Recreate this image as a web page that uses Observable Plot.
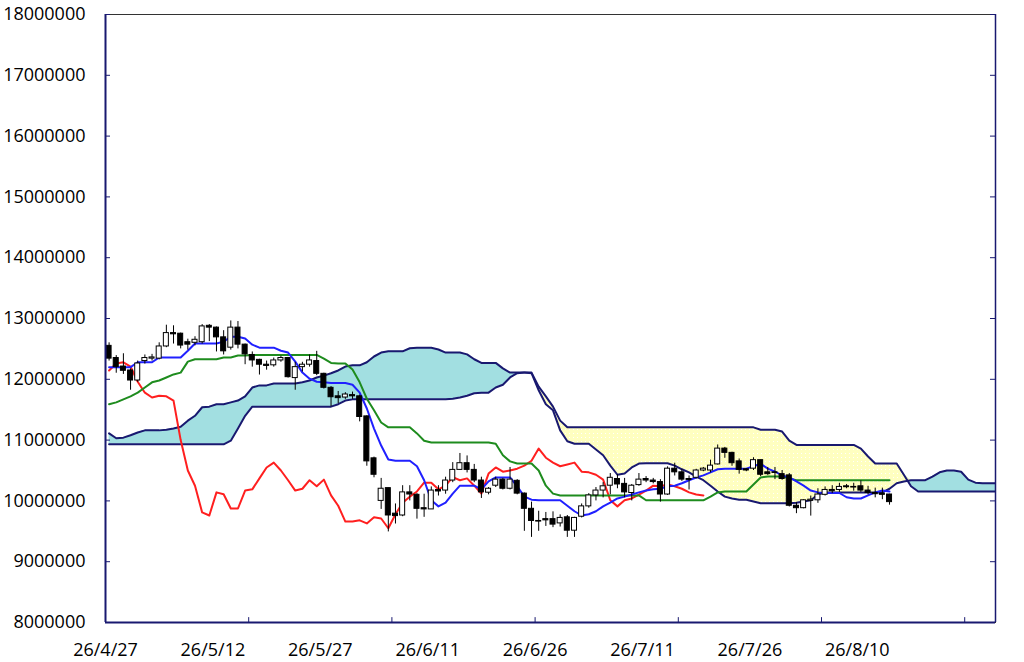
<!DOCTYPE html>
<html>
<head>
<meta charset="utf-8">
<script src="https://cdn.jsdelivr.net/npm/d3@7"></script>
<script src="https://cdn.jsdelivr.net/npm/@observablehq/plot@0.6"></script>
<style>
  html, body { margin: 0; padding: 0; background: #fff; }
  #chart svg { display: block; }
</style>
</head>
<body>
<div id="chart"></div>
<script>
// ---- Data (values in millions) ----
const startDate = "2026-04-27";

const open = [12.55,12.35,12.21,12.145,11.98,12.30,12.34,12.34,12.54,12.76,
 12.75,12.61,12.60,12.61,12.88,12.85,12.69,12.52,12.85,12.57,
 12.40,12.32,12.24,12.23,12.31,12.35,12.02,12.20,12.24,12.30,
 12.09,11.86,11.72,11.70,11.74,11.72,11.39,10.70,10.00,10.21,
 9.79,9.76,10.14,10.10,9.88,9.86,10.18,10.17,10.335,10.51,
 10.62,10.51,10.335,10.135,10.25,10.35,10.20,10.33,10.12,9.87,
 9.67,9.70,9.70,9.63,9.73,9.51,9.74,9.91,10.09,10.17,
 10.25,10.36,10.28,10.13,10.26,10.36,10.335,10.31,10.105,10.53,
 10.47,10.36,10.38,10.50,10.50,10.60,10.86,10.79,10.65,10.52,
 10.53,10.67,10.47,10.47,10.44,10.42,9.92,9.88,10.00,10.01,
 10.10,10.18,10.18,10.24,10.23,10.24,10.17,10.13,10.12,10.105];

const high = [12.60,12.39,12.42,12.17,12.30,12.40,12.41,12.60,12.89,12.88,
 12.76,12.66,12.70,12.90,12.90,12.86,12.80,12.96,12.95,12.58,
 12.45,12.33,12.30,12.35,12.38,12.36,12.28,12.28,12.40,12.46,
 12.10,11.88,11.80,11.78,11.79,11.74,11.40,10.72,10.37,10.21,
 9.95,10.25,10.25,10.12,10.11,10.23,10.25,10.39,10.63,10.78,
 10.74,10.60,10.39,10.22,10.39,10.37,10.55,10.35,10.13,9.98,
 9.83,9.81,9.82,9.77,9.76,9.73,9.95,10.12,10.22,10.30,
 10.45,10.43,10.37,10.27,10.45,10.40,10.37,10.35,10.56,10.62,
 10.52,10.41,10.52,10.55,10.67,10.92,10.88,10.80,10.69,10.53,
 10.71,10.67,10.55,10.55,10.50,10.45,9.97,10.02,10.08,10.20,
 10.23,10.25,10.29,10.27,10.29,10.33,10.24,10.21,10.21,10.11];

const low = [12.30,12.10,12.08,11.82,11.95,12.25,12.30,12.32,12.52,12.58,
 12.50,12.48,12.55,12.58,12.62,12.45,12.40,12.48,12.50,12.24,
 12.20,12.07,12.15,12.20,12.28,12.02,11.82,12.12,12.20,12.06,
 11.84,11.55,11.60,11.67,11.67,11.30,10.57,10.38,9.86,9.49,
 9.62,9.74,10.00,9.70,9.73,9.86,10.08,10.11,10.30,10.50,
 10.46,10.30,10.04,10.10,10.22,10.18,10.18,10.10,9.50,9.40,
 9.50,9.58,9.56,9.57,9.40,9.40,9.72,9.88,10.00,10.05,
 10.10,10.20,10.05,10.00,10.24,10.30,10.28,9.98,10.09,10.41,
 10.32,10.18,10.36,10.48,10.46,10.59,10.70,10.57,10.44,10.48,
 10.50,10.40,10.42,10.35,10.34,9.90,9.79,9.87,9.75,9.96,
 10.08,10.12,10.14,10.20,10.16,10.14,10.10,10.05,10.02,9.93];

const close = [12.34,12.20,12.14,11.98,12.26,12.35,12.36,12.54,12.76,12.74,
 12.555,12.57,12.65,12.87,12.85,12.69,12.46,12.85,12.57,12.41,
 12.31,12.24,12.22,12.31,12.35,12.035,12.20,12.24,12.31,12.09,
 11.86,11.705,11.69,11.75,11.72,11.38,10.65,10.43,10.20,9.76,
 9.75,10.14,10.105,9.87,9.86,10.17,10.155,10.335,10.51,10.62,
 10.51,10.335,10.14,10.20,10.35,10.20,10.35,10.12,9.87,9.67,
 9.66,9.68,9.61,9.72,9.51,9.72,9.91,10.09,10.17,10.24,
 10.38,10.27,10.14,10.25,10.35,10.335,10.31,10.105,10.53,10.47,
 10.35,10.345,10.50,10.53,10.58,10.86,10.79,10.62,10.51,10.50,
 10.67,10.43,10.44,10.46,10.36,9.92,9.88,10.01,10.02,10.105,
 10.18,10.16,10.23,10.225,10.22,10.17,10.13,10.11,10.10,9.98];

const tenkan = [12.20,12.20,12.20,12.20,12.28,12.28,12.28,12.36,12.36,12.36,
 12.36,12.47,12.59,12.59,12.59,12.59,12.62,12.70,12.70,12.67,
 12.57,12.52,12.52,12.52,12.47,12.44,12.29,12.11,12.01,11.96,
 11.95,11.94,11.94,11.94,11.91,11.78,11.52,11.19,10.91,10.68,
 10.66,10.66,10.66,10.57,10.34,10.01,9.91,9.97,10.12,10.25,
 10.25,10.25,10.19,10.32,10.385,10.385,10.385,10.24,10.07,10.02,
 10.01,10.01,10.01,10.01,9.92,9.83,9.76,9.78,9.83,9.91,
 9.97,10.04,10.07,10.105,10.14,10.17,10.19,10.20,10.24,10.25,
 10.29,10.34,10.385,10.42,10.47,10.52,10.53,10.53,10.53,10.53,
 10.57,10.61,10.53,10.48,10.42,10.385,10.32,10.25,10.17,10.14,
 10.13,10.13,10.13,10.06,10.04,10.04,10.09,10.14,10.17,10.155];

const kijun = [11.59,11.62,11.67,11.72,11.78,11.865,11.95,11.98,12.03,12.08,
 12.11,12.29,12.33,12.33,12.33,12.33,12.36,12.36,12.39,12.39,
 12.40,12.40,12.40,12.40,12.40,12.40,12.40,12.40,12.40,12.40,
 12.34,12.27,12.26,12.26,12.16,11.95,11.68,11.49,11.29,11.21,
 11.21,11.21,11.21,11.11,10.99,10.96,10.96,10.96,10.96,10.96,
 10.96,10.96,10.96,10.96,10.94,10.75,10.65,10.615,10.615,10.615,
 10.50,10.25,10.12,10.09,10.09,10.09,10.09,10.09,10.09,10.09,
 10.09,10.09,10.09,10.09,10.09,10.01,10.01,10.01,10.01,10.01,
 10.01,10.01,10.01,10.01,10.07,10.14,10.155,10.155,10.155,10.155,
 10.27,10.385,10.40,10.40,10.40,10.37,10.34,10.34,10.34,10.34,
 10.34,10.34,10.34,10.34,10.34,10.34,10.34,10.34,10.34,10.34];

const chikou = [12.145,12.26,12.28,12.21,11.96,11.78,11.70,11.73,11.72,11.65,
 11.00,10.50,10.25,9.81,9.76,10.14,10.11,9.875,9.875,10.17,
 10.19,10.37,10.55,10.63,10.50,10.34,10.17,10.20,10.34,10.24,
 10.35,10.09,9.92,9.66,9.66,9.68,9.63,9.73,9.71,9.55,
 9.78,9.97,10.07,10.155,10.30,10.30,10.19,10.25,10.39,10.34,
 10.37,10.25,10.12,10.45,10.55,10.48,10.50,10.53,10.58,10.66,
 10.86,10.71,10.63,10.57,10.60,10.63,10.48,10.47,10.43,10.35,
 10.01,9.91,10.01,10.04,10.105,10.17,10.25,10.24,10.27,10.24,
 10.20,10.14,10.105,10.09];

const senkouA = [11.11,11.03,11.04,11.08,11.125,11.16,11.16,11.16,11.17,11.19,
 11.22,11.32,11.40,11.54,11.55,11.59,11.59,11.62,11.65,11.72,
 11.865,11.90,11.90,11.93,11.93,11.93,11.93,11.95,11.98,12.03,
 12.06,12.10,12.145,12.21,12.23,12.23,12.28,12.375,12.44,12.46,
 12.46,12.46,12.51,12.52,12.52,12.52,12.49,12.44,12.44,12.44,
 12.41,12.33,12.27,12.27,12.27,12.18,12.11,12.11,12.11,12.10,
 11.82,11.59,11.49,11.16,10.98,10.94,10.94,10.94,10.845,10.75,
 10.58,10.43,10.45,10.55,10.615,10.62,10.62,10.62,10.62,10.58,
 10.52,10.47,10.40,10.34,10.25,10.155,10.07,10.04,10.02,10.02,
 9.99,9.96,9.96,9.96,9.96,9.96,9.97,9.99,10.01,10.105,
 10.14,10.14,10.14,10.14,10.14,10.14,10.14,10.14,10.14,10.20,
 10.29,10.32,10.34,10.34,10.34,10.40,10.47,10.50,10.50,10.48,
 10.35,10.30,10.29,10.29,10.29];

const senkouB = [10.93,10.93,10.93,10.93,10.93,10.93,10.93,10.93,10.93,10.93,
 10.93,10.93,10.93,10.93,10.93,10.93,10.93,10.99,11.19,11.40,
 11.55,11.55,11.55,11.55,11.55,11.55,11.55,11.55,11.55,11.55,
 11.55,11.55,11.59,11.65,11.67,11.67,11.67,11.67,11.67,11.67,
 11.67,11.67,11.67,11.67,11.67,11.67,11.67,11.67,11.68,11.70,
 11.73,11.77,11.78,11.78,11.865,11.91,12.03,12.10,12.11,12.11,
 11.88,11.72,11.55,11.32,11.21,11.21,11.21,11.21,11.21,11.21,
 11.21,11.21,11.21,11.21,11.21,11.21,11.21,11.21,11.21,11.21,
 11.21,11.21,11.21,11.21,11.21,11.21,11.21,11.21,11.21,11.21,
 11.21,11.17,11.17,11.17,11.14,10.99,10.92,10.92,10.92,10.92,
 10.92,10.92,10.92,10.92,10.92,10.86,10.73,10.615,10.615,10.615,
 10.615,10.43,10.24,10.155,10.155,10.155,10.155,10.155,10.155,10.155,
 10.155,10.155,10.155,10.155,10.155];

const yTicks = [8000000,9000000,10000000,11000000,12000000,13000000,14000000,15000000,16000000,17000000,18000000];
const labelDates = ["2026-04-27","2026-05-12","2026-05-27","2026-06-11","2026-06-26","2026-07-11","2026-07-26","2026-08-10"];
const tickDates = ["2026-05-17","2026-06-06","2026-06-26","2026-07-16","2026-08-05","2026-08-25"];
const spanDays = 124.3;

// ---- Build tables ----
const M = 1e6;
const DAY = 864e5;
const t0 = Date.parse(startDate + "T00:00:00Z");
const tEnd = t0 + spanDays * DAY;
const at = i => new Date(t0 + (i + 0.5) * DAY);

const candles = close.map((c, i) => ({
  date: at(i), o: open[i] * M, h: high[i] * M, l: low[i] * M, c: c * M, up: c >= open[i]
}));
const cloud = senkouA.map((a, i) => ({date: at(i), a: a * M, b: senkouB[i] * M}));
const series = arr => arr.map((v, i) => ({date: at(i), v: v * M}));

const navy = "#191970";
const halfBody = 0.35 * DAY;

const svg = Plot.plot({
  width: 1024,
  height: 662,
  marginLeft: 105,
  marginRight: 29,
  marginTop: 14,
  marginBottom: 40,
  style: {fontFamily: "'Open Sans', 'Noto Sans', sans-serif", fontSize: "18px", color: "#000", background: "#fff"},
  x: {type: "utc", domain: [new Date(t0), new Date(tEnd)]},
  y: {domain: [8e6, 18e6]},
  marks: [
    Plot.frame({stroke: "#333", strokeWidth: 1}),
    // cloud fills
    Plot.areaY(cloud, {x: "date", y1: "b", y2: d => Math.max(d.a, d.b), fill: "#a2dfe1", clip: true}),
    Plot.areaY(cloud, {x: "date", y1: "a", y2: d => Math.max(d.a, d.b), fill: "url(#yellowDots)", clip: true}),
    Plot.lineY(cloud, {x: "date", y: "a", stroke: navy, strokeWidth: 2, clip: true}),
    Plot.lineY(cloud, {x: "date", y: "b", stroke: navy, strokeWidth: 2, clip: true}),
    // lines
    Plot.lineY(series(chikou), {x: "date", y: "v", stroke: "#ff1f1f", strokeWidth: 2}),
    Plot.lineY(series(kijun), {x: "date", y: "v", stroke: "#1e8c1e", strokeWidth: 2}),
    Plot.lineY(series(tenkan), {x: "date", y: "v", stroke: "#2020ff", strokeWidth: 2}),
    // candles
    Plot.ruleX(candles, {x: "date", y1: "l", y2: "h", stroke: "#000", strokeWidth: 1}),
    Plot.rect(candles.filter(d => d.up), {
      x1: d => new Date(+d.date - halfBody), x2: d => new Date(+d.date + halfBody),
      y1: "o", y2: "c", fill: "#fff", stroke: "#000", strokeWidth: 1
    }),
    Plot.rect(candles.filter(d => !d.up), {
      x1: d => new Date(+d.date - halfBody), x2: d => new Date(+d.date + halfBody),
      y1: "c", y2: "o", fill: "#000", stroke: "#000", strokeWidth: 1
    }),
    // axis lines
    Plot.ruleX([new Date(t0)], {stroke: navy, strokeWidth: 2}),
    Plot.ruleX([new Date(tEnd)], {stroke: navy, strokeWidth: 1.5}),
    Plot.ruleY([8e6], {stroke: navy, strokeWidth: 2}),
    // inward tick marks
    Plot.ruleY(yTicks, {y: d => d, x1: () => new Date(t0), x2: () => new Date(t0 + 0.7 * DAY), stroke: navy, strokeWidth: 1}),
    Plot.ruleY(yTicks, {y: d => d, x1: () => new Date(tEnd - 0.7 * DAY), x2: () => new Date(tEnd), stroke: navy, strokeWidth: 1}),
    Plot.ruleX(tickDates.map(s => new Date(s + "T00:00:00Z")), {x: d => d, y1: () => 8e6, y2: () => 8.08e6, stroke: navy, strokeWidth: 1}),
    // axis labels
    Plot.axisY(yTicks, {tickSize: 0, tickPadding: 20, tickFormat: d3.format("d"), label: null, fontSize: 18}),
    Plot.axisX(labelDates.map(s => new Date(s + "T00:00:00Z")), {tickSize: 0, tickPadding: 21, tickFormat: d3.utcFormat("%y/%-m/%-d"), label: null, fontSize: 18})
  ]
});

// dotted yellow pattern for the bearish cloud
const ns = "http://www.w3.org/2000/svg";
const defs = document.createElementNS(ns, "defs");
const pat = document.createElementNS(ns, "pattern");
pat.setAttribute("id", "yellowDots");
pat.setAttribute("patternUnits", "userSpaceOnUse");
pat.setAttribute("width", "4");
pat.setAttribute("height", "4");
const bg = document.createElementNS(ns, "rect");
bg.setAttribute("width", "4"); bg.setAttribute("height", "4"); bg.setAttribute("fill", "#ffffc0");
const dot = document.createElementNS(ns, "rect");
dot.setAttribute("x", "1"); dot.setAttribute("y", "1"); dot.setAttribute("width", "1"); dot.setAttribute("height", "1"); dot.setAttribute("fill", "#ffffff");
pat.appendChild(bg); pat.appendChild(dot);
defs.appendChild(pat);
svg.insertBefore(defs, svg.firstChild);

document.getElementById("chart").appendChild(svg);
</script>
</body>
</html>
